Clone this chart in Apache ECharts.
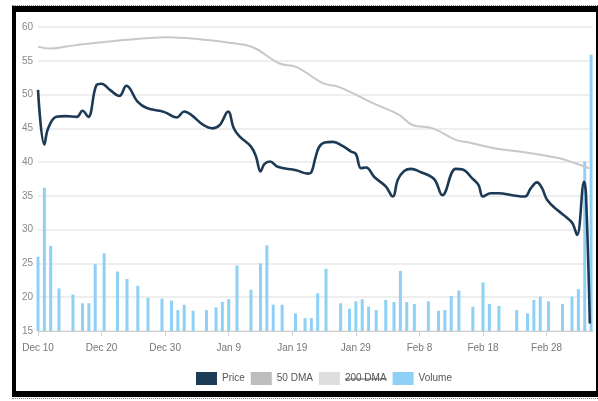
<!DOCTYPE html>
<html>
<head>
<meta charset="utf-8">
<script src="https://cdn.jsdelivr.net/npm/echarts@6/dist/echarts.min.js"></script>
<style>
  html, body { margin: 0; padding: 0; background: #fff; }
  #wrap { position: relative; width: 598px; height: 401px; overflow: hidden; }
  #chart { position: absolute; left: 0; top: 0; width: 598px; height: 401px; }
  #frame { position: absolute; left: 12px; top: 6px; width: 580px; height: 379px;
           border-style: solid; border-color: #000; border-width: 6px 6px 6px 4px; pointer-events: none; }
  #dotTop { position: absolute; left: 12px; top: 5px; width: 586px; border-top: 1px dotted #888; }
  #dotBot { position: absolute; left: 12px; top: 398px; width: 586px; border-top: 1px dotted #888; }
</style>
</head>
<body>
<div id="wrap">
  <div id="chart"></div>
  <div id="frame"></div>
  <div id="dotTop"></div>
  <div id="dotBot"></div>
</div>
<script>
// x positions are days counted from Dec 10
var tickLabels = ['Dec 10','Dec 20','Dec 30','Jan 9','Jan 19','Jan 29','Feb 8','Feb 18','Feb 28'];
var tickDays = [0,10,20,30,40,50,60,70,80];
var legendNames = ['Price', '50 DMA', '200 DMA', 'Volume'];

var priceDays = [0,1,1.6,2.9,4.4,6.1,7,7.9,9.2,10,11.3,12.8,13.9,15.7,17.1,19.9,21.8,23,24.1,26,27.5,28.6,29.9,30.8,31.7,33.5,34.3,35,35.6,36.5,37.7,40.6,42.4,43,43.6,44.2,45.1,46.4,47.9,49.2,50,50.8,51.6,52.9,54.7,55.8,56.6,57.6,58.7,60,62.3,63.6,65.7,66.8,68.3,69.3,70,71.2,72.5,74.6,76.6,77.5,78.5,79.3,80.1,81.7,83.3,84.1,84.8,85.9,86.2,86.8];
var priceValues = [50.7,42.6,45.0,46.7,46.8,46.7,47.6,46.7,51.4,51.6,50.7,49.8,51.3,48.9,48.0,47.4,46.6,47.5,47.0,45.5,45.0,45.5,47.5,45.0,43.8,42.3,40.8,38.6,39.7,40.1,39.3,38.8,38.3,38.5,40.5,42.2,42.9,43.0,42.4,41.6,41.2,39.1,39.2,37.8,36.4,34.9,37.4,38.7,39.0,38.6,37.5,35.1,39.0,38.9,37.6,36.6,34.9,35.4,35.4,35.1,34.9,36.1,37.0,36.1,34.4,32.9,31.7,30.9,29.2,37.1,35.1,16.1];

var dma50Days = [0,1.9,4.5,6.6,9.7,13.9,20.2,25.4,30.7,33.8,38,40.6,44.8,47.4,53.2,56.8,58.9,62.1,65.7,68.3,72,76.2,81.9,84.6,86.7];
var dma50Values = [57.1,56.8,57.1,57.4,57.7,58.1,58.5,58.2,57.6,57.0,54.6,54.1,51.7,51.1,48.5,47.0,45.5,45.0,43.3,42.8,42.0,41.5,40.6,39.8,39.1];

var volDays = [0,1,2,3.3,5.5,7,8,9,10.4,12.5,14,15.7,17.3,19.5,21,22,23,24.4,26.5,28,29,30,31.3,33.5,35,36,37,38.4,40.5,42,43,44,45.3,47.6,49,50,51,52,53.2,54.7,56,57,58,59.2,61.4,63,64,65,66.2,68.4,70,71,72.5,75.3,77,78,79,80.3,82.5,84,85,86,87];
var volValues = [26.0,36.2,27.6,21.3,20.4,19.1,19.1,24.9,26.5,23.8,22.7,21.7,19.9,19.8,19.5,18.1,18.9,18.0,18.1,18.5,19.3,19.7,24.7,21.1,25.0,27.7,18.9,18.9,17.6,16.9,16.9,20.6,24.2,19.1,18.3,19.4,19.7,18.6,18.1,19.6,19.3,23.9,19.3,19.0,19.4,18.0,18.1,20.2,21.0,18.6,22.2,19.0,18.7,18.1,17.6,19.6,20.1,19.4,19.0,20.1,21.2,40.1,55.9];

function zip(a, b) { return a.map(function (v, i) { return [v, b[i]]; }); }

var FONT = '"Liberation Sans", Arial, sans-serif';
var LEG_LEFT = 191, LEG_TOP = 367, LEG_PAD = 5, ICON_W = 21, ICON_H = 13, GAP = 6;

// strike-through decoration over the "200 DMA" legend label
function textW(s) {
  var c = document.createElement('canvas').getContext('2d');
  c.font = '10px ' + FONT;
  return c.measureText(s).width;
}
var sx = LEG_LEFT + LEG_PAD;
for (var k = 0; k < 2; k++) sx += ICON_W + 5 + textW(legendNames[k]) + GAP;
sx += ICON_W + 5;
var sw = textW(legendNames[2]);
var sy = LEG_TOP + LEG_PAD + ICON_H / 2 + 0.5;

var chart = echarts.init(document.getElementById('chart'), null, { renderer: 'canvas' });
chart.setOption({
  animation: false,
  backgroundColor: 'transparent',
  grid: { left: 38, right: 5, top: 27, bottom: 70, containLabel: false },
  legend: {
    left: LEG_LEFT, top: LEG_TOP, padding: LEG_PAD,
    itemWidth: ICON_W, itemHeight: ICON_H, itemGap: GAP,
    icon: 'rect',
    textStyle: { color: '#555', fontFamily: FONT, fontSize: 10 },
    data: legendNames,
    selectedMode: false
  },
  graphic: [{
    type: 'line', silent: true, z: 100,
    shape: { x1: sx, y1: sy, x2: sx + sw, y2: sy },
    style: { stroke: '#555', lineWidth: 1 }
  }],
  xAxis: {
    type: 'value', min: 0, max: 87.3,
    axisLine: { show: true, lineStyle: { color: '#d0d0d0', width: 1 } },
    axisTick: { show: true, length: 5, lineStyle: { color: '#d0d0d0' }, customValues: tickDays },
    axisLabel: { customValues: tickDays, margin: 12, color: '#777', fontFamily: FONT, fontSize: 10,
      formatter: function (v) { var i = tickDays.indexOf(v); return i >= 0 ? tickLabels[i] : ''; } },
    splitLine: { show: false }
  },
  yAxis: {
    type: 'value', min: 15, max: 60, interval: 5,
    axisLine: { show: false }, axisTick: { show: false },
    axisLabel: { margin: 5, color: '#888', fontFamily: FONT, fontSize: 10 },
    splitLine: { lineStyle: { color: '#eeeeee', width: 2 } }
  },
  series: [
    { name: 'Volume', type: 'bar', data: zip(volDays, volValues), barWidth: 3, clip: true,
      itemStyle: { color: '#8fd1f6' }, z: 1 },
    { name: '50 DMA', type: 'line', data: zip(dma50Days, dma50Values), smooth: 0.4, showSymbol: false,
      lineStyle: { color: '#c8c8c8', width: 2 }, itemStyle: { color: '#bdbdbd' }, z: 2 },
    { name: '200 DMA', type: 'line', data: [], showSymbol: false,
      lineStyle: { color: '#dedede', width: 2 }, itemStyle: { color: '#dedede' } },
    { name: 'Price', type: 'line', data: zip(priceDays, priceValues), smooth: 0.4, showSymbol: false,
      lineStyle: { color: '#1c3a55', width: 2.6 }, itemStyle: { color: '#1d3c58' }, z: 3 }
  ]
});
</script>
</body>
</html>
